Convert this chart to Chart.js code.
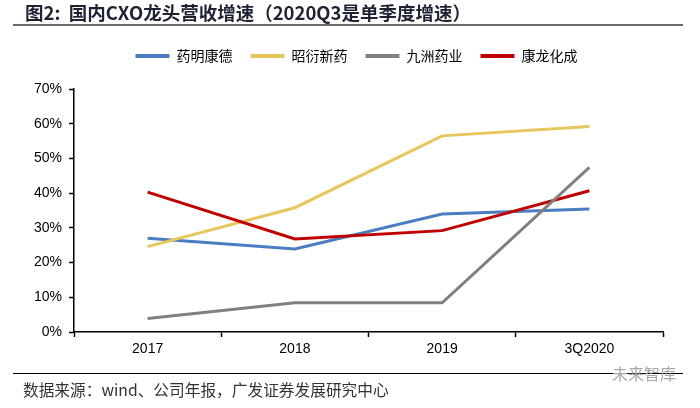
<!DOCTYPE html>
<html>
<head>
<meta charset="utf-8">
<script src="https://cdn.jsdelivr.net/npm/chart.js@4/dist/chart.umd.min.js"></script>
<style>
  html, body { margin: 0; padding: 0; background: #fff; }
  #wrap { position: relative; width: 700px; height: 408px; overflow: hidden; }
  #title { position: absolute; left: 25px; top: 1px; font-family: "Noto Sans CJK SC", sans-serif; font-weight: 700; font-size: 18.5px; color: #1f2233; white-space: nowrap; line-height: 22px; }
  #rule1 { position: absolute; left: 13px; top: 24px; width: 670px; height: 0; border-top: 2px solid #6b6b6b; }
  #rule2 { position: absolute; left: 13px; top: 373px; width: 670px; height: 0; border-top: 1.5px solid #000; }
  #footer { position: absolute; left: 23px; top: 380px; font-family: "Noto Sans CJK SC", sans-serif; font-size: 15.7px; color: #333; white-space: nowrap; line-height: 20px; }
  #wm { position: absolute; left: 612px; top: 363px; font-family: "Noto Sans CJK SC", sans-serif; font-size: 16px; color: #a8a8a8; white-space: nowrap; line-height: 20px; }
  canvas { position: absolute; left: 0; top: 0; }
</style>
</head>
<body>
<div id="wrap">
  <canvas id="c" width="700" height="408"></canvas>
  <div id="title">图2:&nbsp; 国内CXO龙头营收增速（2020Q3是单季度增速）</div>
  <div id="rule1"></div>
  <div id="rule2"></div>
  <div id="footer">数据来源：wind、公司年报，广发证券发展研究中心</div>
  <div id="wm">未来智库</div>
</div>
<script>
const categories = ["2017", "2018", "2019", "3Q2020"];
const seriesNames = ["药明康德", "昭衍新药", "九洲药业", "康龙化成"];
const wuxiApptec = [27.0, 23.9, 34.0, 35.4];
const joinn = [24.6, 35.8, 56.5, 59.2];
const jiuzhou = [3.9, 8.4, 8.4, 47.4];
const pharmaron = [40.3, 26.8, 29.2, 40.7];
const yTicks = [0, 10, 20, 30, 40, 50, 60, 70];

const colors = ["#4a7ec0", "#e6c75e", "#808080", "#c00000"];
const seriesValues = [wuxiApptec, joinn, jiuzhou, pharmaron];
const drawOrder = [3, 2, 0, 1];

const spacer = {
  id: 'spacer',
  beforeInit(chart) {
    const box = {
      position: 'top', weight: 10, fullSize: true,
      options: {},
      isHorizontal() { return true; },
      update(maxW, maxH) { this.width = maxW; this.height = 16; return {}; },
      draw() {}
    };
    Chart.layouts.addBox(chart, box);
  },
  afterLayout(chart) {
    if (chart.legend) { chart.legend.left += 25; chart.legend.right += 25; }
  }
};

new Chart(document.getElementById('c'), {
  type: 'line',
  data: {
    labels: categories,
    datasets: seriesNames.map((name, i) => ({
      label: name,
      data: seriesValues[i],
      borderColor: colors[i],
      backgroundColor: colors[i],
      borderWidth: 3,
      pointRadius: 0,
      tension: 0,
      fill: false,
      order: drawOrder[i]
    }))
  },
  options: {
    responsive: false,
    animation: false,
    devicePixelRatio: 1,
    layout: { padding: { left: 0, right: 37, top: 31, bottom: 38 } },
    plugins: {
      tooltip: { enabled: false },
      legend: {
        position: 'top',
        align: 'center',
        labels: {
          boxWidth: 34,
          boxHeight: 4,
          padding: 18,
          color: '#222',
          font: { family: '"Noto Sans CJK SC", sans-serif', size: 14 },
          sort: (a, b) => a.datasetIndex - b.datasetIndex,
          generateLabels: (chart) => chart.data.datasets.map((ds, i) => ({
            text: ds.label, fillStyle: ds.borderColor, strokeStyle: ds.borderColor,
            lineWidth: 0, datasetIndex: i, hidden: false
          }))
        }
      }
    },
    scales: {
      x: {
        type: 'category',
        offset: true,
        afterFit: (s) => { s.height = 38; },
        grid: { offset: true, drawOnChartArea: false, drawTicks: true, tickLength: 5, tickColor: '#000', tickWidth: 1.5 },
        border: { color: '#000', width: 1.5 },
        ticks: { color: '#000', padding: 4, font: { family: '"Liberation Sans", Arial, sans-serif', size: 14 } }
      },
      y: {
        min: 0, max: 70,
        afterFit: (s) => { s.width = 74; },
        afterBuildTicks: (s) => { s.ticks = yTicks.map(v => ({ value: v })); },
        grid: { drawOnChartArea: false, drawTicks: true, tickLength: 5, tickColor: '#000', tickWidth: 1.5 },
        border: { color: '#000', width: 1.5 },
        ticks: { color: '#000', padding: 7, font: { family: '"Liberation Sans", Arial, sans-serif', size: 14 }, callback: (v) => v + '%' }
      }
    }
  },
  plugins: [spacer]
});
</script>
</body>
</html>
